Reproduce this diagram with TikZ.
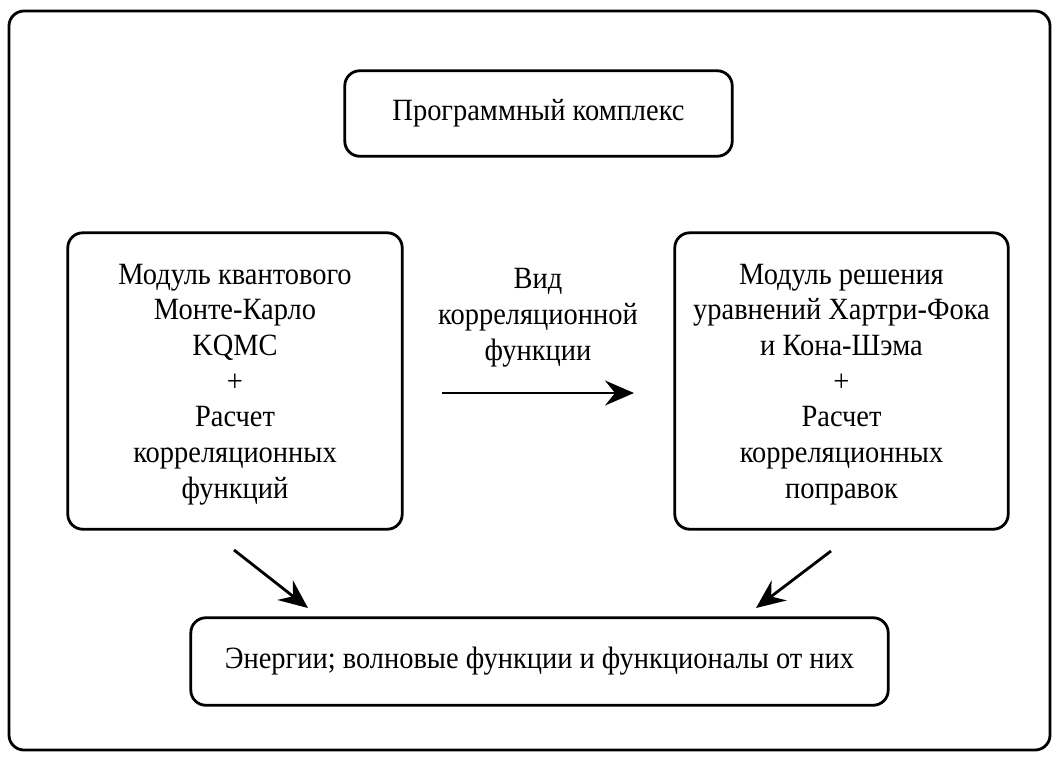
\documentclass[tikz,border=0pt]{standalone}
\usepackage{fontspec}
\setmainfont{Liberation Serif}[FakeStretch=0.92]
\usepackage{tikz}
\usetikzlibrary{arrows.meta}

\tikzset{
  blok/.style={draw=black, line width=1.6pt, rounded corners=0.3cm, align=center,
    font=\fontsize{17.6}{20.3}\selectfont, inner sep=0pt},
  strelka/.style={line width=1.6pt, -{Stealth[length=0.58cm, width=0.5cm, inset=0.2cm]}}
}

\begin{document}
\begin{tikzpicture}[x=0.02cm, y=-0.02cm]
\useasboundingbox (0,0) rectangle (1060,761);

\draw[line width=1.6pt, rounded corners=0.3cm] (9,11) rectangle (1050,750);

\node[blok, minimum width=7.75cm, minimum height=1.71cm] (kompleks) at (538.5,113.5) {Программный комплекс};

\node[blok, minimum width=6.69cm, minimum height=5.93cm, text depth=-0.24cm] (kqmc) at (235,381)
  {Модуль квантового\\Монте-Карло\\KQMC\\+\\Расчет\\корреляционных\\функций};

\node[blok, minimum width=6.67cm, minimum height=5.93cm, text depth=-0.24cm] (hf) at (841.5,381)
  {Модуль решения\\уравнений Хартри-Фока\\и Кона-Шэма\\+\\Расчет\\корреляционных\\поправок};

\node[blok, minimum width=13.95cm, minimum height=1.75cm] (energii) at (539.5,661.5)
  {Энергии; волновые функции и функционалы от них};

% strelki
\coordinate (a1) at (442,393);
\coordinate (a2) at (634,393);
\draw[strelka] (a1) -- (a2) node[midway, above=0.38cm, align=center, font=\fontsize{17.6}{20.3}\selectfont]
  {Вид\\корреляционной\\функции};

\coordinate (b1) at (234,550);
\coordinate (b2) at (308,608);
\draw[strelka] (b1) -- (b2);

\coordinate (c1) at (831,551);
\coordinate (c2) at (756,608);
\draw[strelka] (c1) -- (c2);
\end{tikzpicture}
\end{document}
